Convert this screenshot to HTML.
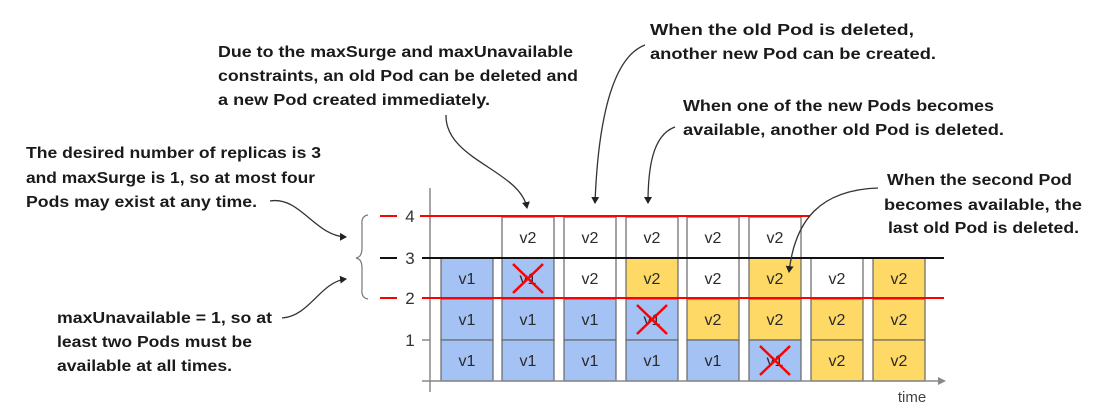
<!DOCTYPE html>
<html><head><meta charset="utf-8"><style>html,body{margin:0;padding:0;background:#fff}svg{display:block}</style></head>
<body>
<svg width="1100" height="409" viewBox="0 0 1100 409" xmlns="http://www.w3.org/2000/svg" font-family="Liberation Sans, sans-serif">
<defs><marker id="ah" markerWidth="8" markerHeight="8" refX="6" refY="4" orient="auto" markerUnits="userSpaceOnUse"><path d="M0,0 L7,4 L0,8 z" fill="#222"/></marker></defs>
<g stroke="#666" stroke-width="1.2">
<rect x="441" y="258" width="52" height="41" fill="#a4c2f4"/><rect x="441" y="299" width="52" height="41" fill="#a4c2f4"/><rect x="441" y="340" width="52" height="41" fill="#a4c2f4"/>
<rect x="502" y="217" width="52" height="41" fill="#fff"/><rect x="502" y="258" width="52" height="41" fill="#a4c2f4"/><rect x="502" y="299" width="52" height="41" fill="#a4c2f4"/><rect x="502" y="340" width="52" height="41" fill="#a4c2f4"/>
<rect x="564" y="217" width="52" height="41" fill="#fff"/><rect x="564" y="258" width="52" height="41" fill="#fff"/><rect x="564" y="299" width="52" height="41" fill="#a4c2f4"/><rect x="564" y="340" width="52" height="41" fill="#a4c2f4"/>
<rect x="626" y="217" width="52" height="41" fill="#fff"/><rect x="626" y="258" width="52" height="41" fill="#ffd966"/><rect x="626" y="299" width="52" height="41" fill="#a4c2f4"/><rect x="626" y="340" width="52" height="41" fill="#a4c2f4"/>
<rect x="687" y="217" width="52" height="41" fill="#fff"/><rect x="687" y="258" width="52" height="41" fill="#fff"/><rect x="687" y="299" width="52" height="41" fill="#ffd966"/><rect x="687" y="340" width="52" height="41" fill="#a4c2f4"/>
<rect x="749" y="217" width="52" height="41" fill="#fff"/><rect x="749" y="258" width="52" height="41" fill="#ffd966"/><rect x="749" y="299" width="52" height="41" fill="#ffd966"/><rect x="749" y="340" width="52" height="41" fill="#a4c2f4"/>
<rect x="811" y="258" width="52" height="41" fill="#fff"/><rect x="811" y="299" width="52" height="41" fill="#ffd966"/><rect x="811" y="340" width="52" height="41" fill="#ffd966"/>
<rect x="873" y="258" width="52" height="41" fill="#ffd966"/><rect x="873" y="299" width="52" height="41" fill="#ffd966"/><rect x="873" y="340" width="52" height="41" fill="#ffd966"/>
</g>
<g font-size="16" fill="#2a2a2a" text-anchor="middle">
<text x="467" y="284">v1</text><text x="467" y="325">v1</text><text x="467" y="366">v1</text>
<text x="528" y="243">v2</text><text x="528" y="284">v1</text><text x="528" y="325">v1</text><text x="528" y="366">v1</text>
<text x="590" y="243">v2</text><text x="590" y="284">v2</text><text x="590" y="325">v1</text><text x="590" y="366">v1</text>
<text x="652" y="243">v2</text><text x="652" y="284">v2</text><text x="652" y="325">v1</text><text x="652" y="366">v1</text>
<text x="713" y="243">v2</text><text x="713" y="284">v2</text><text x="713" y="325">v2</text><text x="713" y="366">v1</text>
<text x="775" y="243">v2</text><text x="775" y="284">v2</text><text x="775" y="325">v2</text><text x="775" y="366">v1</text>
<text x="837" y="284">v2</text><text x="837" y="325">v2</text><text x="837" y="366">v2</text>
<text x="899" y="284">v2</text><text x="899" y="325">v2</text><text x="899" y="366">v2</text>
</g>
<g stroke="#f00" stroke-width="2.5">
<path d="M513,264 L543,293 M543,264 L513,293"/>
<path d="M637,305 L667,334 M667,305 L637,334"/>
<path d="M760,346 L790,375 M790,346 L760,375"/>
</g>
<g stroke="#888" stroke-width="1.5">
<line x1="430" y1="188" x2="430" y2="392"/>
<line x1="422" y1="381" x2="940" y2="381"/>
<line x1="422" y1="340" x2="430" y2="340"/>
</g>
<path d="M938,377 L946,381 L938,385 z" fill="#888"/>
<text x="912" y="402" font-size="15" fill="#444" text-anchor="middle">time</text>
<line x1="420" y1="216" x2="810" y2="216" stroke="#f00" stroke-width="2"/>
<line x1="422" y1="258" x2="944" y2="258" stroke="#111" stroke-width="2"/>
<line x1="422" y1="298" x2="944" y2="298" stroke="#f00" stroke-width="2"/>
<line x1="380" y1="216" x2="397" y2="216" stroke="#f00" stroke-width="2"/>
<line x1="380" y1="258" x2="397" y2="258" stroke="#111" stroke-width="2"/>
<line x1="380" y1="298" x2="397" y2="298" stroke="#f00" stroke-width="2"/>
<g font-size="17" fill="#333" text-anchor="middle">
<text x="410" y="222">4</text><text x="410" y="264">3</text><text x="410" y="304">2</text><text x="410" y="346">1</text>
</g>
<path d="M368,215 Q361,216 362,225 L362,248 Q362,257 356,258 Q362,259 362,268 L362,289 Q361,298 368,299" fill="none" stroke="#777" stroke-width="1.2"/>
<g fill="none" stroke="#333" stroke-width="1.3" marker-end="url(#ah)">
<path d="M270,201 C300,196 315,236 346,237"/>
<path d="M282,318 C310,316 320,282 346,279"/>
<path d="M446,115 C445,160 520,170 527,208"/>
<path d="M645,45 C605,60 597,150 595,203"/>
<path d="M675,127 C652,135 648,170 648,203"/>
<path d="M878,188 C820,190 795,220 789,272"/>
</g>
<g font-size="15.5" font-weight="bold" fill="#1a1a1a">
<text x="218" y="57" textLength="355" lengthAdjust="spacingAndGlyphs">Due to the maxSurge and maxUnavailable</text>
<text x="218" y="81" textLength="360" lengthAdjust="spacingAndGlyphs">constraints, an old Pod can be deleted and</text>
<text x="218" y="105" textLength="272" lengthAdjust="spacingAndGlyphs">a new Pod created immediately.</text>
<text x="650" y="35" textLength="264" lengthAdjust="spacingAndGlyphs">When the old Pod is deleted,</text>
<text x="650" y="59" textLength="286" lengthAdjust="spacingAndGlyphs">another new Pod can be created.</text>
<text x="683" y="111" textLength="311" lengthAdjust="spacingAndGlyphs">When one of the new Pods becomes</text>
<text x="683" y="135" textLength="321" lengthAdjust="spacingAndGlyphs">available, another old Pod is deleted.</text>
<text x="26" y="158" textLength="295" lengthAdjust="spacingAndGlyphs">The desired number of replicas is 3</text>
<text x="26" y="183" textLength="289" lengthAdjust="spacingAndGlyphs">and maxSurge is 1, so at most four</text>
<text x="26" y="207" textLength="231" lengthAdjust="spacingAndGlyphs">Pods may exist at any time.</text>
<text x="887" y="185" textLength="185" lengthAdjust="spacingAndGlyphs">When the second Pod</text>
<text x="884" y="210" textLength="198" lengthAdjust="spacingAndGlyphs">becomes available, the</text>
<text x="888" y="233" textLength="191" lengthAdjust="spacingAndGlyphs">last old Pod is deleted.</text>
<text x="57" y="323" textLength="215" lengthAdjust="spacingAndGlyphs">maxUnavailable = 1, so at</text>
<text x="57" y="347" textLength="195" lengthAdjust="spacingAndGlyphs">least two Pods must be</text>
<text x="57" y="371" textLength="175" lengthAdjust="spacingAndGlyphs">available at all times.</text>
</g>
</svg>
</body></html>
